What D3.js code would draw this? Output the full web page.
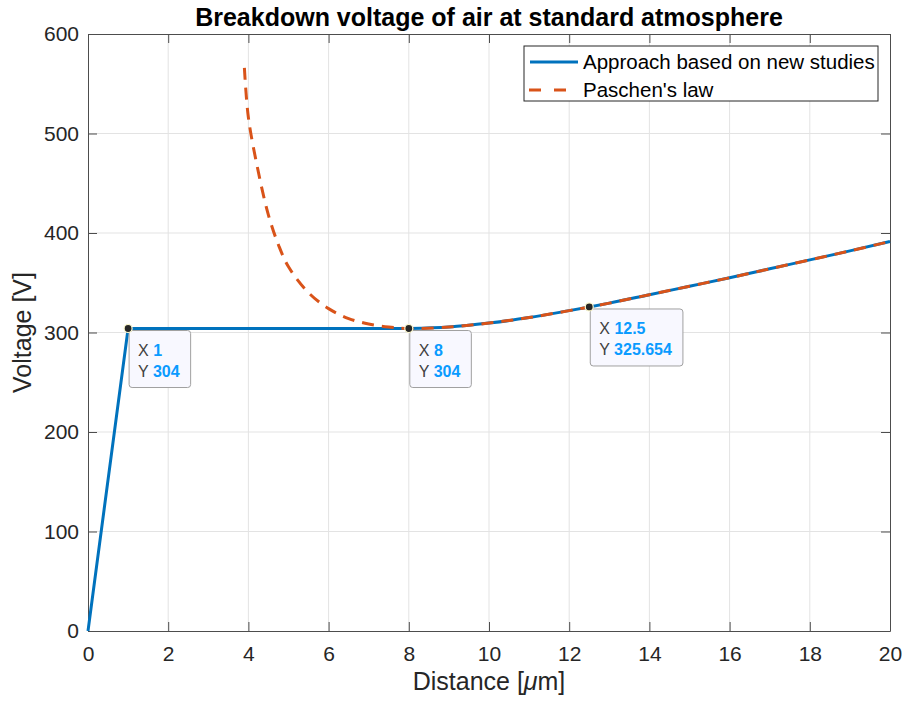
<!DOCTYPE html>
<html lang="en">
<head>
<meta charset="UTF-8" />
<title>Breakdown voltage of air</title>
<script src="https://d3js.org/d3.v7.min.js"></script>
<style>
  body { margin: 0; background: #fff; font-family: "Liberation Sans", Arial, sans-serif; }
  .grid line { stroke: #e3e3e3; stroke-width: 1px; }
  .axis text { fill: #262626; font-size: 21px; font-family: "Liberation Sans", Arial, sans-serif; }
  .axis path, .axis line { stroke: #4d4d4d; }
</style>
</head>
<body>
<svg id="chart" width="908" height="703"></svg>
<script>
  // new-studies approach: linear rise, flat plateau, then follows Paschen
  const newX = [0, 1, 8, 9, 10, 11, 12, 12.5, 13, 14, 15, 16, 17, 18, 19, 20];
  const newY = [0, 304, 304, 305.5, 309.5, 315, 322, 325.654, 329.5, 338, 346.5, 355, 364, 373, 382, 391.5];

  const paschenX = [3.9, 4.0, 4.25, 4.5, 4.75, 5, 5.5, 6, 6.5, 7, 7.5, 8, 9, 10, 11, 12, 12.5, 13, 14, 15, 16, 17, 18, 19, 20];
  const paschenY = [566, 516, 461, 418, 388, 366, 340, 324, 314, 308.5, 305.5, 304, 305.5, 309.5, 315, 322, 325.654, 329.5, 338, 346.5, 355, 364, 373, 382, 391.5];

  const xTicks = [0, 2, 4, 6, 8, 10, 12, 14, 16, 18, 20];
  const yTicks = [0, 100, 200, 300, 400, 500, 600];

  const tipX = [1, 8, 12.5];
  const tipY = [304, 304, 325.654];
  const tipYLabel = ["304", "304", "325.654"];

  const mLeft = 88, mRight = 890, mTop = 34, mBottom = 631;
  const svg = d3.select("#chart");

  const x = d3.scaleLinear().domain([0, 20]).range([mLeft, mRight]);
  const y = d3.scaleLinear().domain([0, 600]).range([mBottom, mTop]);

  // grid
  const grid = svg.append("g").attr("class", "grid");
  grid.selectAll(".gx").data(xTicks.slice(1, -1)).enter().append("line")
    .attr("x1", d => x(d)).attr("x2", d => x(d)).attr("y1", mTop).attr("y2", mBottom);
  grid.selectAll(".gy").data(yTicks.slice(1, -1)).enter().append("line")
    .attr("y1", d => y(d)).attr("y2", d => y(d)).attr("x1", mLeft).attr("x2", mRight);

  // axes with inward ticks
  svg.append("g").attr("class", "axis").attr("transform", `translate(0,${mBottom})`)
    .call(d3.axisBottom(x).tickValues(xTicks).tickSizeInner(-9).tickSizeOuter(0).tickPadding(15));
  svg.append("g").attr("class", "axis").attr("transform", `translate(${mLeft},0)`)
    .call(d3.axisLeft(y).tickValues(yTicks).tickSizeInner(-9).tickSizeOuter(0).tickPadding(9));
  svg.append("g").attr("class", "axis").attr("transform", `translate(0,${mTop})`)
    .call(d3.axisTop(x).tickValues(xTicks).tickSizeInner(-9).tickSizeOuter(0).tickFormat(""));
  svg.append("g").attr("class", "axis").attr("transform", `translate(${mRight},0)`)
    .call(d3.axisRight(y).tickValues(yTicks).tickSizeInner(-9).tickSizeOuter(0).tickFormat(""));

  const smooth = d3.line().x(d => x(d[0])).y(d => y(d[1])).curve(d3.curveMonotoneX);
  const straight = d3.line().x(d => x(d[0])).y(d => y(d[1]));

  // blue: straight segments up to the plateau end, smooth after
  const newPts = newX.map((v, i) => [v, newY[i]]);
  const headPath = straight(newPts.slice(0, 3));
  const tailPath = smooth(newPts.slice(2));
  svg.append("path")
    .attr("d", headPath + "L" + tailPath.slice(1))
    .attr("fill", "none").attr("stroke", "#0072BD").attr("stroke-width", 3);

  svg.append("path")
    .datum(paschenX.map((v, i) => [v, paschenY[i]]))
    .attr("d", d3.line().x(d => x(d[0])).y(d => y(d[1])).curve(d3.curveCatmullRom))
    .attr("fill", "none").attr("stroke", "#D95319").attr("stroke-width", 3)
    .attr("stroke-dasharray", "12,8");

  // title and labels
  svg.append("text").attr("x", (mLeft + mRight) / 2).attr("y", 26)
    .attr("text-anchor", "middle").attr("font-weight", "bold").attr("font-size", 25)
    .attr("fill", "#000").text("Breakdown voltage of air at standard atmosphere");

  const xl = svg.append("text").attr("x", (mLeft + mRight) / 2).attr("y", 690)
    .attr("text-anchor", "middle").attr("font-size", 25).attr("fill", "#262626");
  xl.append("tspan").text("Distance [");
  xl.append("tspan").attr("font-style", "italic").text("μ");
  xl.append("tspan").text("m]");

  svg.append("text").attr("transform", `translate(31,${(mTop + mBottom) / 2}) rotate(-90)`)
    .attr("text-anchor", "middle").attr("font-size", 25).attr("fill", "#262626")
    .text("Voltage [V]");

  // legend
  const lg = svg.append("g");
  lg.append("rect").attr("x", 524).attr("y", 46).attr("width", 354).attr("height", 55)
    .attr("fill", "#fff").attr("stroke", "#262626").attr("stroke-width", 1);
  lg.append("line").attr("x1", 530).attr("x2", 578).attr("y1", 62).attr("y2", 62)
    .attr("stroke", "#0072BD").attr("stroke-width", 3);
  lg.append("line").attr("x1", 529).attr("x2", 567).attr("y1", 90).attr("y2", 90)
    .attr("stroke", "#D95319").attr("stroke-width", 3).attr("stroke-dasharray", "12,13");
  lg.append("text").attr("x", 583).attr("y", 69).attr("font-size", 20.5).attr("fill", "#000")
    .text("Approach based on new studies");
  lg.append("text").attr("x", 583).attr("y", 97).attr("font-size", 20.5).attr("fill", "#000")
    .text("Paschen's law");

  // data tips
  const tips = svg.append("g").selectAll("g").data(tipX).enter().append("g")
    .attr("transform", (d, i) => `translate(${x(d) + 1},${y(tipY[i]) + 2})`);
  tips.each(function (d, i) {
    const g = d3.select(this);
    const rect = g.append("rect").attr("rx", 3).attr("fill", "#f8f8ff")
      .attr("stroke", "#a0a0a0").attr("stroke-width", 1);
    const t1 = g.append("text").attr("x", 9).attr("y", 25).attr("font-size", 16);
    t1.append("tspan").attr("fill", "#404040").text("X ");
    t1.append("tspan").attr("fill", "#0a9bff").attr("font-weight", "bold").text(String(d));
    const t2 = g.append("text").attr("x", 9).attr("y", 46).attr("font-size", 16);
    t2.append("tspan").attr("fill", "#404040").text("Y ");
    t2.append("tspan").attr("fill", "#0a9bff").attr("font-weight", "bold").text(tipYLabel[i]);
    const w = Math.max(t1.node().getComputedTextLength(), t2.node().getComputedTextLength());
    rect.attr("width", w + 20).attr("height", 57);
  });
  svg.append("g").selectAll("circle").data(tipX).enter().append("circle")
    .attr("cx", d => x(d)).attr("cy", (d, i) => y(tipY[i])).attr("r", 4)
    .attr("fill", "#262626").attr("stroke", "#fffbd0").attr("stroke-width", 1.2);
</script>
</body>
</html>
